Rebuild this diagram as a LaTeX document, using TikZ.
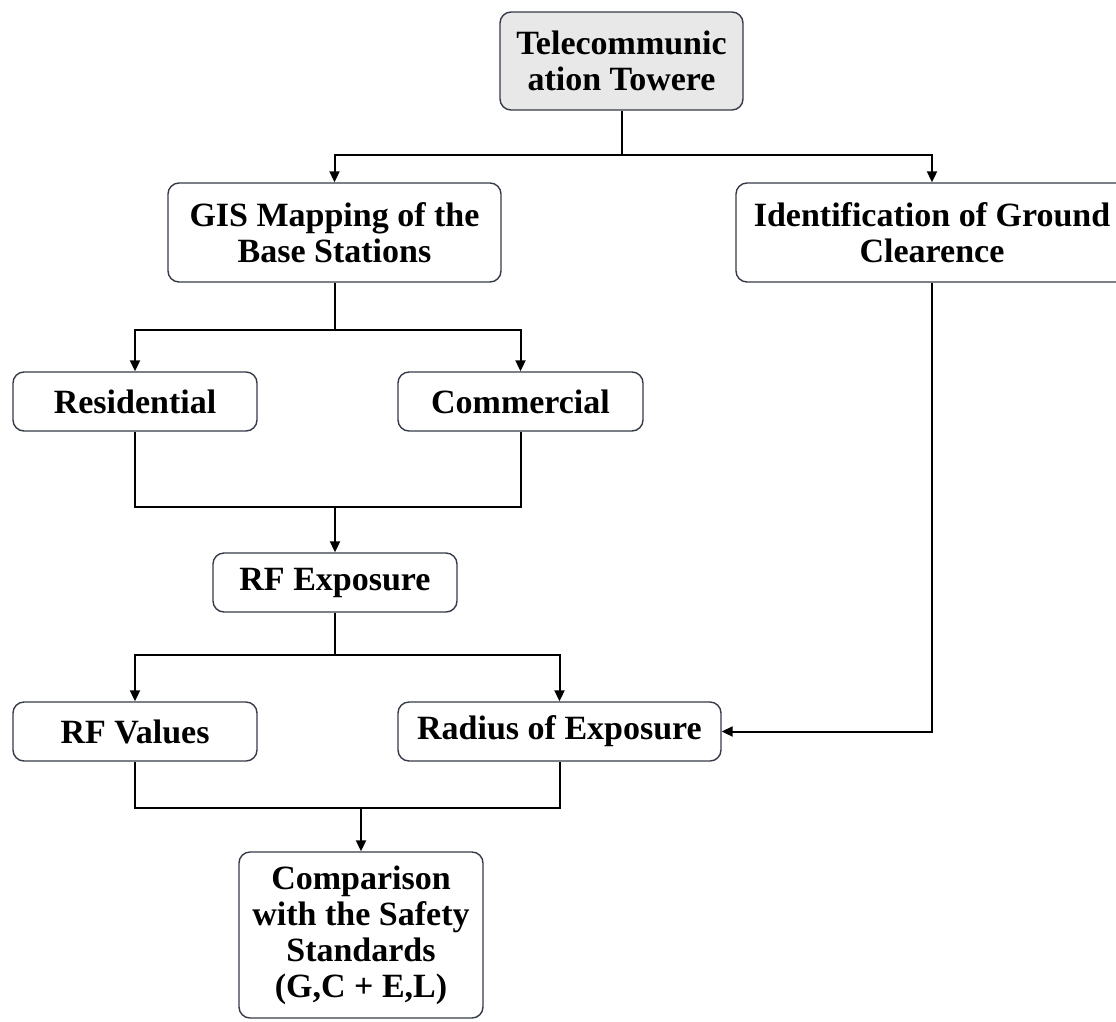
\documentclass[tikz,border=0pt]{standalone}
\usepackage{fontspec}
\setmainfont{Liberation Serif}
\usetikzlibrary{arrows.meta}
\definecolor{boxline}{HTML}{353A48}
\definecolor{topfill}{HTML}{E8E8E8}
\tikzset{
  x=1pt, y=-1pt,
  box/.style={draw=boxline, line width=1.4pt, rounded corners=11pt, align=center,
    font=\fontsize{34}{36}\selectfont\bfseries, inner sep=0pt, text=black},
  conn/.style={line width=2pt, draw=black},
  arr/.style={conn, -{Triangle[length=11pt,width=10pt]}},
}
\begin{document}
\begin{tikzpicture}
\useasboundingbox (0,0) rectangle (1116,1021);
\node[box, fill=topfill, minimum width=243pt, minimum height=98pt] (top) at (621.5,61) {Telecommunic\\ation Towere};
\node[box, minimum width=333pt, minimum height=99pt] (gis) at (334.5,232.5) {GIS Mapping of the\\Base Stations};
\node[box, minimum width=392pt, minimum height=99pt] (ident) at (932,232.5) {Identification of Ground\\Clearence};
\node[box, minimum width=244pt, minimum height=59pt] (res) at (135,401.5) {Residential};
\node[box, minimum width=245pt, minimum height=59pt] (com) at (520.5,401.5) {Commercial};
\node[box, minimum width=244pt, minimum height=59pt] (rfexp) at (335,582.5) {RF Exposure};
\node[box, minimum width=244pt, minimum height=59pt] (rfval) at (135,731.5) {RF Values};
\node[box, minimum width=323pt, minimum height=59pt] (radius) at (559.5,731.5) {Radius of Exposure};
\node[box, minimum width=244pt, minimum height=166pt] (comp) at (361,935) {Comparison\\with the Safety\\Standards\\(G,C + E,L)};
% top -> gis, ident
\coordinate (j1) at (621.5,155);
\draw[conn] (top.south) -- (j1);
\draw[arr] (j1) -| (gis.north);
\draw[arr] (j1) -| (ident.north);
% gis -> res, com
\coordinate (j2) at (334.5,330);
\draw[conn] (gis.south) -- (j2);
\draw[arr] (j2) -| (res.north);
\draw[arr] (j2) -| (com.north);
% res, com -> rfexp
\coordinate (j3) at (335,507);
\draw[conn] (res.south) |- (j3) -| (com.south);
\draw[arr] (j3) -- (rfexp.north);
% rfexp -> rfval, radius
\coordinate (j4) at (335,655);
\draw[conn] (rfexp.south) -- (j4);
\draw[arr] (j4) -| (rfval.north);
\draw[arr] (j4) -| (radius.north);
% ident -> radius
\draw[arr] (ident.south) |- (radius.east);
% rfval, radius -> comp
\coordinate (j5) at (361,808);
\draw[conn] (rfval.south) |- (j5) -| (radius.south);
\draw[arr] (j5) -- (comp.north);
\end{tikzpicture}
\end{document}
